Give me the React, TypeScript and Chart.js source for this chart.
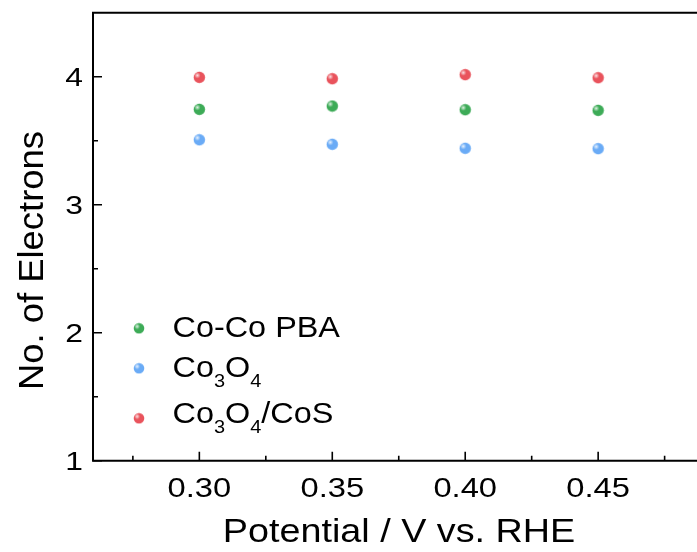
import React, { useEffect, useRef } from "react";
import { Chart, registerables } from "chart.js";

Chart.register(...registerables);

// ---- data ----
const potentials = [0.3, 0.35, 0.4, 0.45];
const cocoPBA = [3.745, 3.771, 3.742, 3.737];
const co3o4 = [3.507, 3.472, 3.441, 3.438];
const co3o4CoS = [3.995, 3.984, 4.016, 3.992];

const seriesNames = ["Co-Co PBA", "Co_3O_4", "Co_3O_4/CoS"];
const seriesColors = ["#3dab57", "#6aabf6", "#e9535c"];

const xMajorTicks = [0.3, 0.35, 0.4, 0.45];
const xTickLabels = ["0.30", "0.35", "0.40", "0.45"];
const xMinorTicks = [0.275, 0.325, 0.375, 0.425, 0.475];
const yMajorTicks = [1, 2, 3, 4];
const yTickLabels = ["1", "2", "3", "4"];
const yMinorTicks = [1.5, 2.5, 3.5];

const xTitle = "Potential / V vs. RHE";
const yTitle = "No. of Electrons";

const FONT = '"Liberation Sans", Arial, Helvetica, sans-serif';

function makeBall(color: string, r: number): HTMLCanvasElement {
  const size = Math.ceil(r * 2) + 1;
  const c = document.createElement("canvas");
  c.width = size;
  c.height = size;
  const ctx = c.getContext("2d")!;
  const cx = size / 2;
  const cy = size / 2;
  ctx.beginPath();
  ctx.arc(cx, cy, r, 0, Math.PI * 2);
  ctx.fillStyle = color;
  ctx.fill();
  const g = ctx.createRadialGradient(cx - r * 0.35, cy - r * 0.35, 0, cx - r * 0.35, cy - r * 0.35, r * 0.55);
  g.addColorStop(0, "rgba(255,255,255,0.85)");
  g.addColorStop(1, "rgba(255,255,255,0)");
  ctx.beginPath();
  ctx.arc(cx, cy, r, 0, Math.PI * 2);
  ctx.fillStyle = g;
  ctx.fill();
  return c;
}

function drawText(
  ctx: CanvasRenderingContext2D,
  text: string,
  x: number,
  y: number,
  size: number,
  sx: number,
  align: CanvasTextAlign
) {
  ctx.save();
  ctx.translate(x, y);
  ctx.scale(sx, 1);
  ctx.font = `${size}px ${FONT}`;
  ctx.textAlign = align;
  ctx.textBaseline = "alphabetic";
  ctx.fillStyle = "#000";
  ctx.fillText(text, 0, 0);
  ctx.restore();
}

function drawRich(
  ctx: CanvasRenderingContext2D,
  label: string,
  x: number,
  y: number,
  size: number,
  subSize: number,
  sx: number
) {
  const parts = label.split(/_(\d)/);
  ctx.save();
  ctx.translate(x, y);
  ctx.scale(sx, 1);
  ctx.fillStyle = "#000";
  ctx.textAlign = "left";
  ctx.textBaseline = "alphabetic";
  let cx = 0;
  parts.forEach((p, i) => {
    if (!p) return;
    const sub = i % 2 === 1;
    ctx.font = `${sub ? subSize : size}px ${FONT}`;
    ctx.fillText(p, cx, sub ? 10 : 0);
    cx += ctx.measureText(p).width;
  });
  ctx.restore();
}

export default function App() {
  const ref = useRef<HTMLCanvasElement | null>(null);

  useEffect(() => {
    if (!ref.current) return;
    const sprites = seriesColors.map((c) => makeBall(c, 5.7));
    const legendSprites = seriesColors.map((c) => makeBall(c, 5.3));
    const series = [cocoPBA, co3o4, co3o4CoS];

    const framePlugin = {
      id: "frame",
      beforeDatasetsDraw(chart: any) {
        const ctx: CanvasRenderingContext2D = chart.ctx;
        const { left, right, top, bottom } = chart.chartArea;
        const xs = chart.scales.x;
        const ys = chart.scales.y;
        ctx.save();
        ctx.strokeStyle = "#000";
        ctx.lineWidth = 2;
        ctx.beginPath();
        ctx.moveTo(left, top);
        ctx.lineTo(right + 20, top);
        ctx.moveTo(left, top - 1);
        ctx.lineTo(left, bottom + 1);
        ctx.moveTo(left - 1, bottom);
        ctx.lineTo(right + 20, bottom);
        ctx.stroke();
        ctx.lineWidth = 1.6;
        ctx.beginPath();
        xMajorTicks.forEach((v) => {
          const px = xs.getPixelForValue(v);
          ctx.moveTo(px, bottom);
          ctx.lineTo(px, bottom - 9);
        });
        xMinorTicks.forEach((v) => {
          const px = xs.getPixelForValue(v);
          ctx.moveTo(px, bottom);
          ctx.lineTo(px, bottom - 5);
        });
        yMajorTicks.forEach((v) => {
          const py = ys.getPixelForValue(v);
          ctx.moveTo(left, py);
          ctx.lineTo(left + 9, py);
        });
        yMinorTicks.forEach((v) => {
          const py = ys.getPixelForValue(v);
          ctx.moveTo(left, py);
          ctx.lineTo(left + 5, py);
        });
        ctx.stroke();
        ctx.restore();
      },
      afterDraw(chart: any) {
        const ctx: CanvasRenderingContext2D = chart.ctx;
        const xs = chart.scales.x;
        const ys = chart.scales.y;
        // tick labels
        xMajorTicks.forEach((v, i) => {
          drawText(ctx, xTickLabels[i], xs.getPixelForValue(v), 496.7, 26.8, 1.22, "center");
        });
        yMajorTicks.forEach((v, i) => {
          drawText(ctx, yTickLabels[i], 83, ys.getPixelForValue(v) + 9.4, 26.5, 1.2, "right");
        });
        // axis titles
        drawText(ctx, xTitle, 399, 541.7, 34, 1.11, "center");
        ctx.save();
        ctx.translate(43.3, 260.5);
        ctx.rotate(-Math.PI / 2);
        ctx.scale(1.04, 1);
        ctx.font = `35px ${FONT}`;
        ctx.textAlign = "center";
        ctx.textBaseline = "alphabetic";
        ctx.fillStyle = "#000";
        ctx.fillText(yTitle, 0, 0);
        ctx.restore();
        // legend
        const markerY = [328.3, 368.3, 418.3];
        const baseY = [336.7, 376.7, 423.3];
        seriesNames.forEach((name, i) => {
          const s = legendSprites[i];
          ctx.drawImage(s, 139 - s.width / 2, markerY[i] - s.height / 2);
          drawRich(ctx, name, 172.5, baseY[i], 30, 18.5, 1.08);
        });
      },
    };

    const chart = new Chart(ref.current, {
      type: "scatter",
      data: {
        datasets: series.map((arr, i) => ({
          label: seriesNames[i].replace(/_/g, ""),
          data: potentials.map((x, j) => ({ x, y: arr[j] })),
          pointStyle: sprites[i] as any,
          pointRadius: 5.7,
          backgroundColor: seriesColors[i],
          borderColor: seriesColors[i],
          showLine: false,
        })),
      },
      options: {
        responsive: false,
        animation: false,
        devicePixelRatio: 1,
        layout: { padding: { left: 93, right: 15.5, top: 12.7, bottom: 91.3 } },
        plugins: { legend: { display: false }, tooltip: { enabled: false } },
        scales: {
          x: { type: "linear", min: 0.26, max: 0.49, display: false },
          y: { type: "linear", min: 1, max: 4.5, display: false },
        },
      },
      plugins: [framePlugin],
    });
    return () => chart.destroy();
  }, []);

  return (
    <div
      style={{
        position: "fixed",
        left: 0,
        top: 0,
        width: 697,
        height: 552,
        overflow: "hidden",
        background: "#fff",
      }}
    >
      <canvas ref={ref} width={720} height={552} style={{ display: "block", width: 720, height: 552 }} />
    </div>
  );
}
